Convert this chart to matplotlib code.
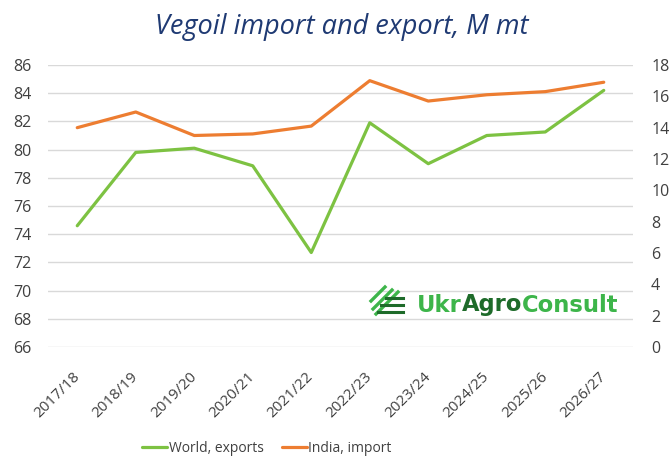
import matplotlib
matplotlib.use("Agg")
import matplotlib.pyplot as plt
from matplotlib.lines import Line2D
from matplotlib.transforms import ScaledTranslation

seasons = ["2017/18", "2018/19", "2019/20", "2020/21", "2021/22",
           "2022/23", "2023/24", "2024/25", "2025/26", "2026/27"]
world_exports = [74.6, 79.8, 80.1, 78.85, 72.7, 81.9, 79.0, 81.0, 81.25, 84.2]
india_import = [14.0, 15.0, 13.5, 13.6, 14.1, 17.0, 15.7, 16.1, 16.3, 16.9]
left_ticks = list(range(66, 87, 2))
right_ticks = list(range(0, 19, 2))

green = "#7DC242"
orange = "#ED7D31"
tick_color = "#404040"

plt.rcParams['font.family'] = ['Open Sans', 'DejaVu Sans']

W, H = 672, 457
fig = plt.figure(figsize=(W / 100, H / 100), dpi=100)
ax = fig.add_axes([48 / W, 1 - 347 / H, (633 - 48) / W, (347 - 65) / H])
ax2 = ax.twinx()

x = list(range(len(seasons)))
l1, = ax.plot(x, world_exports, color=green, lw=2.3, solid_capstyle='round', zorder=3)
l2, = ax2.plot(x, india_import, color=orange, lw=2.3, solid_capstyle='round', zorder=3)

ax.set_xlim(-0.5, len(seasons) - 0.5)
ax.set_ylim(66, 86)
ax2.set_ylim(0, 18)
ax.set_yticks(left_ticks)
ax2.set_yticks(right_ticks)
ax.set_xticks(x)
ax.set_xticklabels(seasons, rotation=45, ha='right', va='center', rotation_mode='anchor')
off = ScaledTranslation(5 / 100, 0, fig.dpi_scale_trans)
for lab in ax.get_xticklabels():
    lab.set_transform(lab.get_transform() + off)

ax.grid(axis='y', color='#d9d9d9', lw=1.0)
ax.set_axisbelow(True)
for a in (ax, ax2):
    for s in a.spines.values():
        s.set_visible(False)
    a.tick_params(length=0, labelsize=11.5, colors=tick_color)
ax.tick_params(axis='x', labelsize=11, pad=20)
ax.tick_params(axis='y', pad=12)
ax2.tick_params(axis='y', pad=13)

fig.canvas.draw()
r = fig.canvas.get_renderer()

title = fig.text(341.5 / W, 1 - 27 / H, "Vegoil import and export, M mt", ha='center',
                 va='center', fontsize=10, style='italic', color='#1F3A73')
tw = title.get_window_extent(r).width
title.set_fontsize(10 * 373 / tw)

leg = fig.legend([l1, l2], ["World, exports", "India, import"], loc='center',
                 bbox_to_anchor=(267 / W, 1 - 448 / H), ncol=2, frameon=False,
                 fontsize=10, handlelength=1.8, handletextpad=0.1, columnspacing=1.3)
for t in leg.get_texts():
    t.set_color(tick_color)

# Logo
def fx(px):
    return px / W

def fy(py):
    return 1 - py / H

logo_green = "#3DB54A"
logo_dark = "#1E6B2A"
for (x0, y0, x1, y1) in [(371, 301, 385, 287), (373, 309, 392, 290), (376, 314, 398, 292)]:
    fig.add_artist(Line2D([fx(x0), fx(x1)], [fy(y0), fy(y1)], color=logo_green,
                          lw=2.4, transform=fig.transFigure))
for (x0, yy) in [(386, 298), (381, 305), (378, 312)]:
    fig.add_artist(Line2D([fx(x0), fx(403)], [fy(yy), fy(yy)], color=logo_dark,
                          lw=2.2, transform=fig.transFigure))

parts = [("Ukr", logo_green), ("Agro", logo_dark), ("Consult", logo_green)]
probe = fig.text(0, 0, "UkrAgroConsult", fontsize=10, fontweight='bold', family='DejaVu Sans')
pw = probe.get_window_extent(r).width
probe.remove()
fs = 10 * 201 / pw
xpos = 417
for s, c in parts:
    t = fig.text(fx(xpos), fy(305), s, ha='left', va='center', fontsize=fs,
                 fontweight='bold', color=c, family='DejaVu Sans')
    xpos += t.get_window_extent(r).width

fig.savefig("out.png", dpi=100, facecolor='white')
